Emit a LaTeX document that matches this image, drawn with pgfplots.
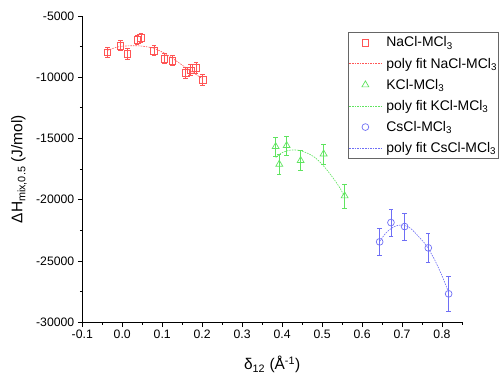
\documentclass[border=0pt]{standalone}
\usepackage{fontspec}
\setmainfont{Liberation Sans}
\usepackage{pgfplots}
\pgfplotsset{compat=1.18}
\definecolor{cred}{RGB}{255,85,85}
\definecolor{cgreen}{RGB}{95,228,95}
\definecolor{cblue}{RGB}{110,110,245}
\pgfplotsset{
 myleg/.style={legend image code/.code={\draw[mark repeat=2,mark phase=2,##1] plot coordinates {(0bp,0bp) (16bp,0bp) (32bp,0bp)};}},
 pts/.style={only marks, color=#1, mark options={solid, fill=none, line width=0.7bp},
   error bars/y dir=both, error bars/y explicit,
   error bars/error bar style={line width=0.7bp, #1},
   error bars/error mark options={rotate=90, mark size=2.2bp, line width=0.7bp, #1}},
 fit/.style={color=#1, smooth, no marks, line width=0.6bp, dash pattern=on 1.6bp off 1bp,
   legend image code/.code={\draw[color=#1, line width=0.6bp, dash pattern=on 1.6bp off 1bp] (0bp,0bp) -- (32bp,0bp);}},
}
\begin{document}
\begin{tikzpicture}
\useasboundingbox (-82.3bp,-52.7bp) rectangle (416.7bp,322.3bp);
\begin{axis}[
 at={(0,0)}, anchor=south west,
 scale only axis, width=379.7bp, height=306.3bp,
 xmin=-0.1, xmax=0.85, ymin=-30000, ymax=-5000,
 axis x line*=bottom, axis y line*=left,
 axis line style={line width=0.8bp, black},
 xtick={-0.1,0,0.1,0.2,0.3,0.4,0.5,0.6,0.7,0.8},
 minor xtick={-0.05,0.05,0.15,0.25,0.35,0.45,0.55,0.65,0.75,0.85},
 ytick={-30000,-25000,-20000,-15000,-10000,-5000},
 minor ytick={-27500,-22500,-17500,-12500,-7500},
 tick align=outside, major tick length=4.5bp, minor tick length=2.5bp,
 tick style={black, line width=0.8bp},
 xticklabel style={/pgf/number format/.cd, fixed, fixed zerofill, precision=1},
 yticklabel style={/pgf/number format/.cd, fixed, 1000 sep={}},
 scaled y ticks=false, scaled x ticks=false,
 /pgf/number format/assume math mode=true,
 tick label style={font=\fontsize{12.3}{14}\selectfont},
 label style={font=\fontsize{15.5}{18}\selectfont},
 xlabel={δ\textsubscript{12} (Å\textsuperscript{-1})},
 ylabel={ΔH\textsubscript{mix,0.5} (J/mol)},
 xlabel style={at={(axis description cs:0.5,-0.1557)}, anchor=base},
 ylabel style={at={(axis description cs:-0.1667,0.5)}, anchor=center},
 legend style={at={(axis description cs:0.699,0.9487)}, anchor=north west,
   draw=black!60, line width=0.8bp, font=\fontsize{14}{16}\selectfont,
   inner xsep=1bp, inner ysep=0bp, row sep=0bp, column sep=4.7bp,
   nodes={inner sep=0pt, minimum height=21.1bp}},
 legend cell align=left,
]
% NaCl
\addplot[pts=cred, mark=square, mark size=3.3bp, myleg] coordinates {
 (-0.0374,-7964) +- (0,420)
 (-0.0049,-7420) +- (0,400)
 (0.0126,-8100) +- (0,420)
 (0.0376,-6930) +- (0,380)
 (0.0468,-6795) +- (0,380)
 (0.0793,-7828) +- (0,400)
 (0.1052,-8480) +- (0,420)
 (0.1252,-8643) +- (0,420)
 (0.1585,-9650) +- (0,450)
 (0.1710,-9420) +- (0,450)
 (0.1844,-9241) +- (0,450)
 (0.2011,-10220) +- (0,480)
};
\addlegendentry{NaCl-MCl\textsubscript{3}}
\addplot[fit=cred] coordinates {
 (-0.037,-7800) (-0.01,-7520) (0.02,-7430) (0.05,-7460) (0.08,-7650)
 (0.11,-8120) (0.14,-8780) (0.17,-9470) (0.2,-10100)
};
\addlegendentry{poly fit NaCl-MCl\textsubscript{3}}
% KCl
\addplot[pts=cgreen, mark=triangle, mark size=4bp, myleg] coordinates {
 (0.3837,-15658) +- (0,760)
 (0.3929,-17099) +- (0,830)
 (0.4113,-15576) +- (0,760)
 (0.4463,-16800) +- (0,820)
 (0.5038,-16256) +- (0,820)
 (0.5564,-19682) +- (0,980)
};
\addlegendentry{KCl-MCl\textsubscript{3}}
\addplot[fit=cgreen] coordinates {
 (0.384,-16550) (0.40,-16150) (0.42,-15950) (0.44,-15950) (0.46,-16150)
 (0.48,-16500) (0.50,-17100) (0.52,-17900) (0.54,-18800) (0.556,-19700)
};
\addlegendentry{poly fit KCl-MCl\textsubscript{3}}
% CsCl
\addplot[pts=cblue, mark=o, mark size=3.4bp, myleg] coordinates {
 (0.644,-23433) +- (0,1140)
 (0.6723,-21858) +- (0,1115)
 (0.7065,-22185) +- (0,1090)
 (0.7657,-23924) +- (0,1180)
 (0.8166,-27676) +- (0,1390)
};
\addlegendentry{CsCl-MCl\textsubscript{3}}
\addplot[fit=cblue] coordinates {
 (0.644,-23400) (0.66,-22700) (0.68,-22200) (0.70,-22050) (0.72,-22300)
 (0.74,-22950) (0.76,-23700) (0.78,-24800) (0.80,-26200) (0.817,-27600)
};
\addlegendentry{poly fit CsCl-MCl\textsubscript{3}}
\end{axis}
\end{tikzpicture}
\end{document}
